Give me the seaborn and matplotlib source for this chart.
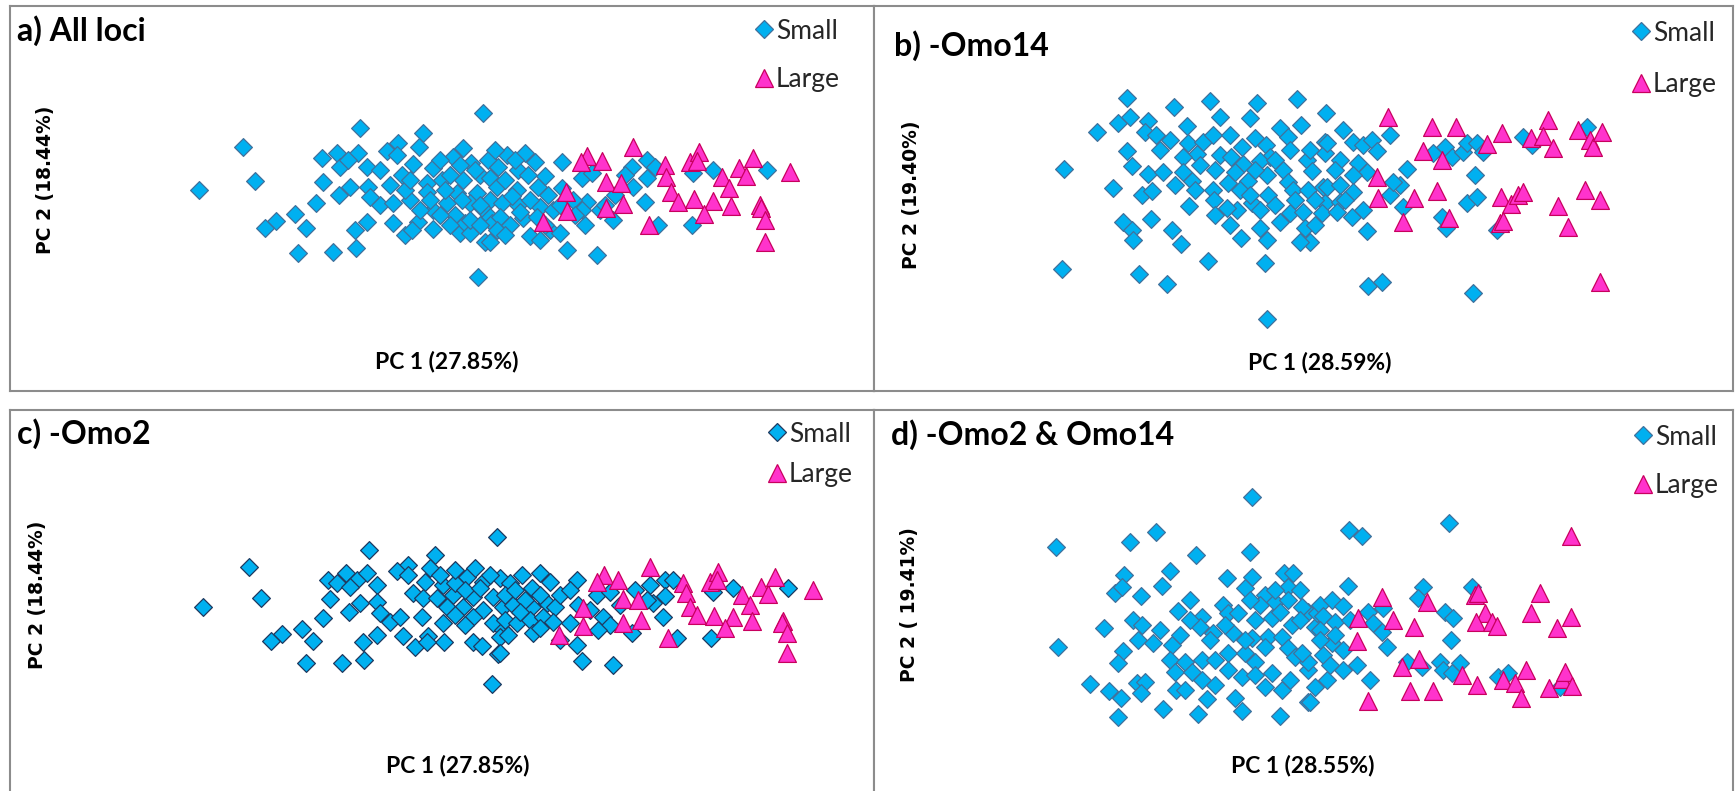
import matplotlib
matplotlib.use("Agg")
import matplotlib.pyplot as plt
from matplotlib.lines import Line2D
import pandas as pd
import seaborn as sns

# ---------------------------------------------------------------------------
# PCA scores (PC1, PC2) in plot units, one list per locus subset and size class
# ---------------------------------------------------------------------------
a_small = [(199, 190), (243, 147), (255, 181), (483, 113), (360, 128), (423, 133), (322, 158),
           (337, 153), (358, 153), (367, 167), (340, 167), (348, 160), (387, 151), (398, 143),
           (397, 155), (419, 147), (413, 164), (402, 175), (433, 168), (463, 148), (453, 157),
           (471, 163), (488, 160), (323, 182), (350, 187), (339, 195), (368, 187), (380, 205),
           (393, 203), (370, 197), (316, 203), (410, 200), (427, 183), (442, 180), (427, 192),
           (447, 203), (457, 193), (463, 180), (480, 175), (490, 178), (477, 193), (490, 200),
           (470, 203), (433, 210), (482, 208), (490, 217), (295, 214), (276, 221), (265, 228),
           (306, 228), (367, 222), (355, 230), (393, 223), (405, 235), (418, 222), (412, 230),
           (433, 229), (460, 233), (465, 223), (470, 233), (485, 242), (492, 223), (298, 253),
           (333, 252), (356, 248), (478, 277),
           (507, 155), (525, 153), (535, 162), (498, 167), (518, 170), (562, 162), (497, 187),
           (517, 190), (538, 187), (502, 203), (518, 205), (540, 207), (500, 217), (523, 218),
           (537, 217), (497, 230), (490, 242), (553, 210), (550, 230), (560, 233), (567, 250),
           (597, 255), (582, 178), (592, 173), (562, 188), (587, 202), (600, 210), (582, 210),
           (613, 220), (632, 167), (647, 160), (655, 167), (647, 178), (633, 187), (645, 202),
           (658, 225), (692, 225), (693, 173), (713, 170), (767, 170), (605, 205), (573, 200),
           (475, 170), (505, 180), (512, 196), (530, 200), (545, 176), (455, 215), (470, 220),
           (510, 225), (530, 236), (545, 225), (480, 205), (445, 190), (430, 200), (462, 200),
           (440, 160), (450, 175), (460, 165), (495, 150), (515, 160), (528, 175), (548, 195),
           (560, 205), (575, 215), (585, 225), (520, 212), (505, 235), (480, 225), (450, 225),
           (440, 215), (420, 210), (405, 190), (390, 185), (380, 170), (410, 180), (540, 240),
           (615, 195), (625, 175)]
a_large = [(587, 156), (581, 162), (602, 161), (633, 147), (606, 182), (621, 183), (566, 192),
           (567, 211), (543, 222), (606, 208), (623, 204), (649, 225), (665, 165), (666, 177),
           (671, 192), (678, 202), (690, 162), (699, 152), (697, 161), (694, 199), (713, 201),
           (704, 214), (722, 177), (729, 188), (731, 206), (739, 168), (746, 176), (753, 158),
           (760, 205), (761, 208), (765, 220), (765, 242), (790, 172)]

b_small = [(1127, 98), (1174, 107), (1210, 101), (1257, 103), (1297, 99), (1326, 113), (1220, 117),
           (1250, 118), (1118, 123), (1130, 117), (1097, 132), (1148, 121), (1145, 132), (1156, 135),
           (1187, 126), (1188, 143), (1203, 142), (1213, 135), (1197, 154), (1183, 157), (1220, 155),
           (1231, 157), (1242, 147), (1255, 138), (1266, 145), (1270, 157), (1260, 161), (1243, 164),
           (1280, 128), (1288, 137), (1301, 125), (1325, 142), (1325, 153), (1127, 151), (1132, 166),
           (1064, 169), (1148, 174), (1163, 172), (1183, 172), (1192, 181), (1113, 188), (1142, 195),
           (1152, 191), (1213, 190), (1214, 200), (1228, 183), (1248, 181), (1240, 190), (1267, 175),
           (1268, 195), (1283, 170), (1288, 182), (1307, 160), (1312, 171), (1293, 190), (1308, 190),
           (1323, 187), (1325, 203), (1237, 210), (1252, 203), (1189, 206), (1290, 213), (1280, 222),
           (1303, 212), (1305, 228), (1310, 242), (1300, 242), (1260, 228), (1267, 240), (1241, 238),
           (1123, 222), (1132, 230), (1133, 240), (1151, 219), (1172, 230), (1181, 244), (1208, 261),
           (1265, 263), (1062, 269), (1139, 274), (1167, 284), (1267, 319), (1227, 208), (1322, 213),
           (1343, 130), (1327, 143), (1353, 142), (1363, 145), (1372, 140), (1377, 151), (1390, 135),
           (1340, 160), (1358, 163), (1367, 172), (1353, 175), (1327, 187), (1340, 185), (1353, 192),
           (1340, 202), (1337, 212), (1352, 217), (1363, 210), (1390, 195), (1400, 185), (1393, 182),
           (1407, 169), (1403, 207), (1367, 231), (1445, 147), (1433, 153), (1452, 157), (1463, 152),
           (1467, 143), (1477, 143), (1483, 152), (1475, 175), (1467, 203), (1477, 197), (1442, 217),
           (1446, 228), (1497, 230), (1523, 137), (1532, 145), (1587, 127), (1368, 286), (1382, 282),
           (1473, 293),
           (1200, 165), (1215, 170), (1235, 172), (1255, 170), (1275, 160), (1290, 150), (1310, 150),
           (1250, 195), (1260, 210), (1275, 205), (1295, 200), (1315, 200), (1230, 225), (1215, 215),
           (1195, 190), (1175, 185), (1160, 150), (1170, 140), (1230, 135), (1315, 225), (1335, 170),
           (1345, 200)]
b_large = [(1388, 117), (1432, 127), (1456, 127), (1502, 133), (1487, 144), (1423, 151), (1442, 160),
           (1531, 138), (1548, 120), (1543, 136), (1553, 148), (1578, 130), (1590, 140), (1593, 147),
           (1602, 132), (1377, 177), (1378, 198), (1414, 198), (1403, 222), (1437, 191), (1449, 218),
           (1501, 197), (1511, 204), (1518, 195), (1523, 192), (1500, 223), (1503, 221), (1558, 206),
           (1568, 227), (1585, 190), (1600, 200), (1600, 282)]

c_small = [(203, 607), (249, 567), (261, 598), (369, 550), (497, 537), (435, 555), (408, 565),
           (397, 571), (408, 575), (430, 568), (328, 580), (346, 573), (337, 583), (357, 580),
           (367, 573), (377, 585), (350, 587), (330, 599), (349, 612), (360, 603), (377, 602),
           (380, 613), (390, 622), (400, 617), (413, 593), (425, 582), (423, 598), (437, 598),
           (443, 585), (453, 595), (447, 607), (422, 617), (443, 623), (467, 577), (475, 568),
           (483, 582), (500, 578), (473, 597), (463, 607), (493, 597), (483, 610), (503, 607),
           (473, 617), (493, 623), (503, 630), (323, 618), (302, 629), (282, 634), (271, 641),
           (313, 641), (377, 635), (363, 642), (403, 636), (415, 647), (428, 636), (444, 642),
           (427, 642), (473, 642), (482, 646), (498, 654), (306, 663), (342, 663), (364, 660),
           (492, 684),
           (522, 575), (540, 573), (550, 582), (510, 583), (532, 588), (505, 595), (513, 605),
           (532, 607), (547, 603), (555, 607), (505, 620), (517, 623), (530, 620), (543, 617),
           (553, 622), (500, 637), (508, 635), (533, 633), (500, 653), (577, 580), (578, 605),
           (570, 623), (577, 645), (582, 661), (613, 665), (597, 595), (610, 592), (603, 617),
           (610, 625), (632, 633), (650, 585), (665, 580), (673, 580), (665, 596), (653, 603),
           (647, 600), (663, 617), (677, 638), (711, 638), (713, 592), (733, 588), (788, 588),
           (440, 575), (455, 583), (465, 590), (480, 588), (490, 575), (515, 590), (525, 600),
           (540, 595), (560, 595), (570, 590), (455, 615), (465, 625), (520, 612), (540, 628),
           (560, 640), (590, 610), (598, 630), (620, 605), (635, 590), (455, 570)]
c_large = [(604, 575), (597, 582), (618, 580), (650, 567), (623, 599), (638, 600), (583, 608),
           (583, 626), (559, 635), (623, 623), (641, 620), (668, 638), (683, 583), (686, 593),
           (690, 607), (697, 615), (710, 582), (718, 572), (717, 580), (714, 616), (733, 617),
           (725, 628), (742, 595), (750, 605), (752, 621), (761, 587), (768, 594), (775, 577),
           (783, 621), (782, 623), (787, 633), (787, 653), (813, 590)]

d_small = [(1252, 497), (1056, 547), (1130, 542), (1156, 532), (1196, 555), (1250, 552), (1124, 575),
           (1115, 593), (1122, 587), (1170, 571), (1162, 586), (1141, 596), (1227, 578), (1252, 577),
           (1245, 588), (1284, 573), (1293, 573), (1288, 587), (1265, 595), (1275, 602), (1288, 600),
           (1178, 611), (1104, 628), (1133, 620), (1142, 625), (1058, 647), (1223, 605), (1228, 613),
           (1238, 613), (1202, 617), (1200, 627), (1213, 633), (1233, 633), (1255, 620), (1272, 618),
           (1292, 625), (1308, 612), (1302, 607), (1268, 637), (1252, 638), (1282, 637), (1315, 627),
           (1138, 640), (1153, 643), (1123, 651), (1118, 663), (1172, 645), (1180, 635), (1170, 660),
           (1185, 662), (1202, 660), (1215, 660), (1228, 653), (1245, 653), (1228, 670), (1242, 677),
           (1255, 662), (1265, 647), (1288, 648), (1295, 657), (1308, 670), (1308, 662), (1175, 672),
           (1192, 672), (1202, 680), (1090, 684), (1109, 691), (1121, 698), (1137, 683), (1145, 682),
           (1141, 693), (1176, 690), (1207, 699), (1235, 698), (1265, 687), (1272, 673), (1282, 690),
           (1308, 702), (1163, 709), (1198, 714), (1242, 711), (1280, 716), (1118, 717), (1317, 613),
           (1302, 653),
           (1349, 530), (1362, 536), (1449, 523), (1348, 586), (1320, 605), (1332, 600), (1343, 606),
           (1323, 616), (1335, 622), (1320, 630), (1368, 612), (1373, 623), (1382, 632), (1383, 608),
           (1332, 643), (1343, 650), (1323, 655), (1387, 647), (1357, 665), (1343, 670), (1327, 680),
           (1315, 687), (1370, 680), (1310, 702), (1423, 587), (1418, 598), (1445, 612), (1453, 618),
           (1451, 640), (1472, 587), (1407, 662), (1422, 667), (1440, 662), (1443, 670), (1460, 663),
           (1452, 673), (1498, 677), (1508, 673), (1560, 687),
           (1190, 620), (1210, 640), (1225, 625), (1245, 640), (1260, 605), (1280, 612), (1300, 620),
           (1320, 640), (1335, 635), (1250, 600), (1275, 590), (1300, 590), (1190, 600), (1160, 630),
           (1185, 690), (1215, 685), (1255, 675), (1290, 680), (1330, 665), (1350, 620)]
d_large = [(1571, 536), (1382, 597), (1427, 602), (1475, 595), (1478, 593), (1540, 593), (1358, 618),
           (1393, 620), (1414, 627), (1357, 641), (1485, 613), (1476, 622), (1492, 622), (1497, 626),
           (1531, 613), (1557, 628), (1571, 617), (1402, 667), (1419, 659), (1410, 691), (1433, 691),
           (1368, 701), (1462, 675), (1477, 685), (1503, 680), (1515, 683), (1526, 670), (1521, 698),
           (1549, 688), (1562, 679), (1565, 672), (1572, 686)]

titles = ["a) All loci", "b) -Omo14", "c) -Omo2", "d) -Omo2 & Omo14"]
pc1_labels = ["PC 1 (27.85%)", "PC 1 (28.59%)", "PC 1 (27.85%)", "PC 1 (28.55%)"]
pc2_labels = ["PC 2 (18.44%)", "PC 2 (19.40%)", "PC 2 (18.44%)", "PC 2 ( 19.41%)"]
group_labels = ["Small", "Large"]

# ---------------------------------------------------------------------------
# Styling
# ---------------------------------------------------------------------------
sns.set_style("white")
plt.rcParams["font.family"] = ["Lato", "DejaVu Sans"]

W, H = 1735, 791
SMALL_FILL = "#00B0F0"
LARGE_FILL = "#FF33CC"
LARGE_EDGE = "#C8005E"
FRAME = "#8C8C8C"
DIAMOND_S = 82
TRIANGLE_S = 165

# panel boxes (left, top, right, bottom) in canvas pixels
boxes = [(10, 6, 874, 391), (874, 6, 1733, 391), (10, 410, 874, 795), (874, 410, 1733, 795)]
small_edges = ["#41719C", "#41719C", "#1F3A60", "#41719C"]
title_pos = [(17, 31), (894, 46), (17, 434), (891, 435)]
pc1_pos = [(447, 362), (1320, 363), (458, 765), (1303, 765)]
pc2_pos = [(45, 180), (911, 195), (38, 595), (909, 605)]
legend_pos = [(764, 31, 80), (1641, 33, 85), (777, 434, 475), (1643, 437, 486)]

small_sets = [a_small, b_small, c_small, d_small]
large_sets = [a_large, b_large, c_large, d_large]

fig = plt.figure(figsize=(W / 100, H / 100), dpi=100)
fig.patch.set_facecolor("white")

LEG_FS = 19
fs_px = LEG_FS * 100 / 72

for i in range(4):
    l, t, r, b = boxes[i]
    ax = fig.add_axes([l / W, 1 - b / H, (r - l) / W, (b - t) / H])
    ax.set_facecolor("white")

    small = pd.DataFrame(small_sets[i], columns=["pc1", "pc2"])
    large = pd.DataFrame(large_sets[i], columns=["pc1", "pc2"])
    sns.scatterplot(data=small, x="pc1", y="pc2", marker="D", s=DIAMOND_S,
                    color=SMALL_FILL, edgecolor=small_edges[i], linewidth=0.9,
                    ax=ax, legend=False, zorder=2)
    sns.scatterplot(data=large, x="pc1", y="pc2", marker="^", s=TRIANGLE_S,
                    color=LARGE_FILL, edgecolor=LARGE_EDGE, linewidth=0.9,
                    ax=ax, legend=False, zorder=3)

    ax.set_xlim(l, r)
    ax.set_ylim(b, t)
    ax.set_xlabel("")
    ax.set_ylabel("")
    ax.set_xticks([])
    ax.set_yticks([])
    for sp in ax.spines.values():
        sp.set_visible(True)
        sp.set_color(FRAME)
        sp.set_linewidth(1.5)

    tx, ty = title_pos[i]
    ax.text(tx, ty, titles[i], ha="left", va="center", fontsize=23,
            fontweight="bold", color="black", transform=ax.transData)
    px, py = pc1_pos[i]
    ax.text(px, py, pc1_labels[i], ha="center", va="center", fontsize=16.5,
            fontweight="bold", color="black", transform=ax.transData)
    qx, qy = pc2_pos[i]
    ax.text(qx, qy, pc2_labels[i], ha="center", va="center", fontsize=13.5,
            fontweight="bold", rotation=90, family=["DejaVu Sans"],
            color="black", transform=ax.transData)

    # legend
    mx, y1, y2 = legend_pos[i]
    handles = [
        Line2D([], [], ls="", marker="D", ms=9.0, mfc=SMALL_FILL,
               mec=small_edges[i], mew=0.9),
        Line2D([], [], ls="", marker="^", ms=12.8, mfc=LARGE_FILL,
               mec=LARGE_EDGE, mew=0.9),
    ]
    hl = 0.6
    spacing = ((y2 - y1) - 0.95 * fs_px) / fs_px
    ax.legend(handles, group_labels, loc="center left",
              bbox_to_anchor=(mx - hl * fs_px / 2, (y1 + y2) / 2),
              bbox_transform=ax.transData, frameon=False, borderpad=0,
              borderaxespad=0, handlelength=hl, handletextpad=0.15,
              labelspacing=spacing, fontsize=LEG_FS)

fig.savefig("out.png", dpi=100, facecolor="white")
